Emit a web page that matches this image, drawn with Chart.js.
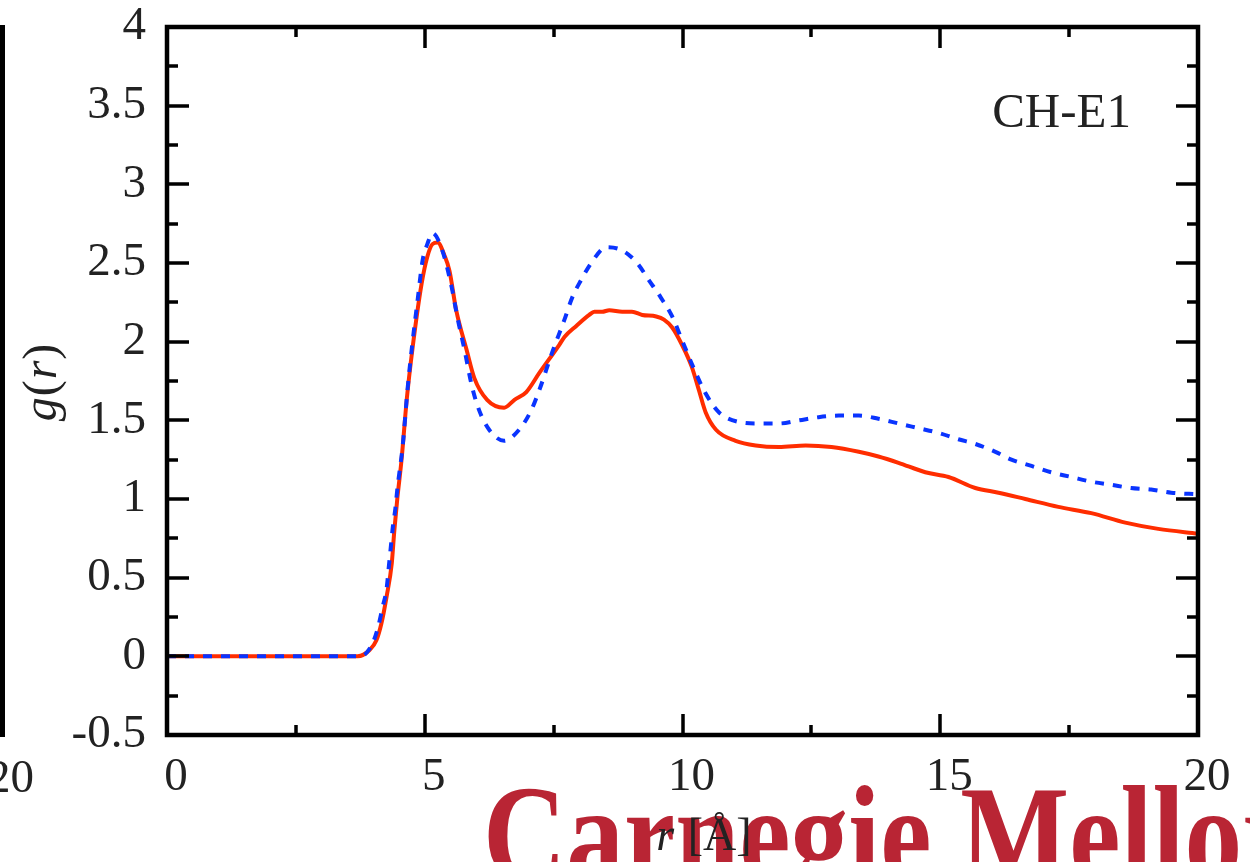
<!DOCTYPE html>
<html><head><meta charset="utf-8">
<script src="https://cdn.jsdelivr.net/npm/chart.js@4.4.1/dist/chart.umd.min.js"></script>
<style>html,body{margin:0;padding:0;background:#fff;overflow:hidden}canvas{display:block}</style>
</head><body>
<canvas id="c" width="1250" height="862" style="width:1250px;height:862px"></canvas>
<script>
// ---- data ----
const rRed = [0,3.7,3.93,4.06,4.16,4.26,4.36,4.41,4.47,4.55,4.65,4.76,4.94,5.05,5.15,5.25,5.38,5.48,5.61,5.81,5.96,6.21,6.54,6.74,6.97,7.22,7.61,7.71,7.94,8.19,8.29,8.44,8.58,8.83,9.02,9.22,9.49,9.64,9.80,9.99,10.18,10.32,10.45,10.65,11.03,11.42,11.87,12.39,12.89,13.42,13.80,14.19,14.71,15.16,15.68,16.13,16.65,17.29,17.93,18.59,19.23,20];
const gRed = [0,0,0.04,0.10,0.21,0.38,0.59,0.80,1.01,1.25,1.63,1.95,2.37,2.54,2.62,2.63,2.55,2.45,2.20,1.95,1.77,1.63,1.58,1.63,1.68,1.80,1.98,2.03,2.10,2.17,2.19,2.19,2.20,2.19,2.19,2.17,2.16,2.14,2.09,1.98,1.84,1.69,1.55,1.44,1.37,1.34,1.33,1.34,1.33,1.30,1.27,1.23,1.17,1.14,1.07,1.04,1.00,0.95,0.91,0.85,0.81,0.78];
const rBlue = [0,3.75,3.97,4.09,4.18,4.26,4.30,4.34,4.38,4.43,4.47,4.57,4.67,4.76,4.86,4.96,5.05,5.15,5.34,5.52,5.63,5.77,5.92,6.06,6.25,6.54,6.83,7.06,7.22,7.47,7.71,7.86,8.03,8.23,8.52,8.83,9.12,9.35,9.58,9.80,9.99,10.18,10.45,10.71,11.09,11.48,11.87,12.26,12.64,13.03,13.42,13.80,14.19,14.58,14.97,15.35,15.68,16.07,16.38,16.77,17.15,17.54,17.93,18.32,18.70,19.09,19.48,20];
const gBlue = [0,0,0.07,0.18,0.31,0.43,0.56,0.69,0.82,0.94,1.07,1.33,1.71,1.99,2.26,2.52,2.62,2.69,2.58,2.35,2.16,1.95,1.71,1.56,1.44,1.37,1.44,1.56,1.69,1.93,2.14,2.28,2.39,2.50,2.60,2.58,2.50,2.39,2.28,2.16,2.01,1.86,1.67,1.55,1.49,1.48,1.48,1.50,1.52,1.53,1.53,1.51,1.48,1.45,1.42,1.38,1.35,1.30,1.25,1.21,1.17,1.14,1.11,1.09,1.07,1.06,1.04,1.03];
const seriesNames = ['red solid', 'blue dashed'];
const panelLabel = 'CH-E1';
const xTitleVar = 'r', xTitleUnit = ' [Å]';
const yTitleParts = ['g', '(', 'r', ')'];
const logoText = 'Carnegie Mellon';
const leftPanelTickLabel = '20';

const SERIF = '"Liberation Serif", "DejaVu Serif", serif';
const TXT = '#222';

function pts(xs, ys){ return xs.map((v,i)=>({x:v, y:ys[i]})); }

const deco = {
  id: 'deco',
  beforeDraw(chart){
    const ctx = chart.ctx;
    ctx.save();
    ctx.fillStyle = '#fff';
    ctx.fillRect(0,0,chart.width,chart.height);
    ctx.fillStyle = '#b92534';
    ctx.font = 'bold 139px ' + SERIF;
    ctx.textBaseline = 'alphabetic';
    ctx.textAlign = 'left';
    ctx.translate(483, 882);
    ctx.scale(0.83, 1);
    ctx.fillText(logoText, 0, 0);
    ctx.restore();
  },
  afterDraw(chart){
    const ctx = chart.ctx, a = chart.chartArea, x = chart.scales.x, y = chart.scales.y;
    ctx.save();
    // ticks
    ctx.strokeStyle = '#000';
    ctx.lineWidth = 3.5;
    ctx.lineCap = 'butt';
    ctx.beginPath();
    for (let v = y.min; v <= y.max + 1e-9; v += 0.25) {
      const p = Math.round(y.getPixelForValue(v));
      const major = Math.abs(v*2 - Math.round(v*2)) < 1e-6;
      const L = major ? 22 : 11;
      ctx.moveTo(a.left, p); ctx.lineTo(a.left + L, p);
      ctx.moveTo(a.right, p); ctx.lineTo(a.right - L, p);
    }
    for (let v = x.min; v <= x.max + 1e-9; v += 2.5) {
      const p = Math.round(x.getPixelForValue(v));
      const major = Math.abs(v/5 - Math.round(v/5)) < 1e-6;
      const L = major ? 21 : 10;
      ctx.moveTo(p, a.bottom); ctx.lineTo(p, a.bottom - L);
      ctx.moveTo(p, a.top); ctx.lineTo(p, a.top + L);
    }
    ctx.stroke();
    // frame
    ctx.lineWidth = 4.5;
    ctx.strokeRect(a.left, a.top, a.right - a.left, a.bottom - a.top);
    // fragment of neighbouring panel
    ctx.lineWidth = 5;
    ctx.beginPath(); ctx.moveTo(2.5, a.top - 2); ctx.lineTo(2.5, a.bottom + 2); ctx.stroke();
    ctx.fillStyle = TXT;
    ctx.font = '47px ' + SERIF;
    ctx.textAlign = 'right'; ctx.textBaseline = 'alphabetic';
    ctx.fillText(leftPanelTickLabel, 34, 792);
    // panel label
    ctx.font = '49px ' + SERIF;
    ctx.textAlign = 'right';
    ctx.fillText(panelLabel, 1131, 127);
    // x title
    ctx.font = 'italic 46px ' + SERIF;
    ctx.textAlign = 'left';
    const w1 = ctx.measureText(xTitleVar).width;
    ctx.font = '46px ' + SERIF;
    const w2 = ctx.measureText(xTitleUnit).width;
    let sx = 703 - (w1 + w2)/2;
    ctx.font = 'italic 46px ' + SERIF;
    ctx.fillText(xTitleVar, sx, 850);
    ctx.font = '46px ' + SERIF;
    ctx.fillText(xTitleUnit, sx + w1 + 2, 850);
    // y title (rotated)
    ctx.translate(56, 382);
    ctx.rotate(-Math.PI/2);
    const fonts = ['italic 48px ', '48px ', 'italic 48px ', '48px '];
    let tw = 0; const ws = [];
    yTitleParts.forEach((s,i)=>{ ctx.font = fonts[i] + SERIF; const w = ctx.measureText(s).width; ws.push(w); tw += w + 1; });
    let cx = -tw/2;
    yTitleParts.forEach((s,i)=>{ ctx.font = fonts[i] + SERIF; ctx.fillText(s, cx, 0); cx += ws[i] + 1; });
    ctx.restore();
  }
};

function build(){
  new Chart(document.getElementById('c'), {
    type: 'line',
    data: {
      datasets: [
        { label: seriesNames[0], data: pts(rRed, gRed), borderColor: '#ff2d00', borderWidth: 4,
          pointRadius: 0, fill: false, cubicInterpolationMode: 'monotone', order: 2 },
        { label: seriesNames[1], data: pts(rBlue, gBlue), borderColor: '#0a34ff', borderWidth: 4,
          borderDash: [9, 9], pointRadius: 0, fill: false, cubicInterpolationMode: 'monotone', order: 1 }
      ]
    },
    options: {
      responsive: false,
      animation: false,
      devicePixelRatio: 1,
      layout: { padding: { top: 27, right: 52, left: 0, bottom: 0 } },
      plugins: { legend: { display: false }, tooltip: { enabled: false } },
      scales: {
        x: {
          type: 'linear', min: 0, max: 20,
          grid: { display: false, drawTicks: false },
          border: { display: false },
          ticks: { stepSize: 5, padding: 14, labelOffset: 9, color: TXT, font: { family: SERIF, size: 47 }, maxRotation: 0 },
          afterFit(s){ s.height = 127; s.paddingLeft = 0; s.paddingRight = 0; }
        },
        y: {
          type: 'linear', min: -0.5, max: 4,
          grid: { display: false, drawTicks: false },
          border: { display: false },
          ticks: { stepSize: 0.5, padding: 21, color: TXT, font: { family: SERIF, size: 47 },
                   callback: (v) => String(Math.round(v * 100) / 100) },
          afterFit(s){ s.width = 167; s.paddingTop = 0; s.paddingBottom = 0; }
        }
      }
    },
    plugins: [deco]
  });
}
Promise.all([
  document.fonts.load('47px "Liberation Serif"'),
  document.fonts.load('italic 47px "Liberation Serif"'),
  document.fonts.load('bold 139px "Liberation Serif"')
]).then(build, build);
</script>
</body></html>
